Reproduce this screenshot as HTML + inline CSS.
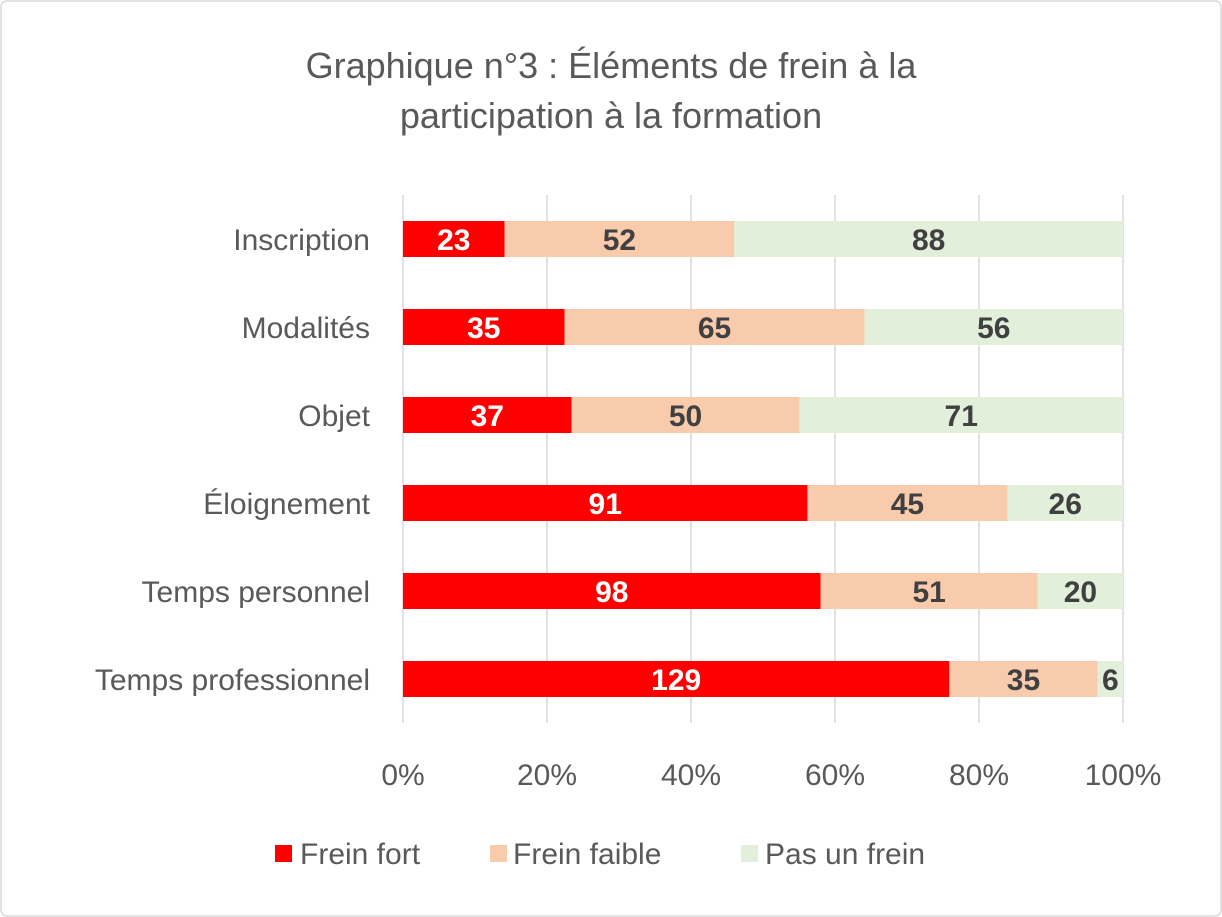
<!DOCTYPE html>
<html><head><meta charset="utf-8"><style>
html,body{margin:0;padding:0;background:#fff}
svg{display:block;font-family:"Liberation Sans",Arial,sans-serif}
</style></head><body>
<svg id="chart" width="1222" height="917" viewBox="0 0 1222 917">
<rect x="1" y="1" width="1220" height="915" rx="6" fill="#fff" stroke="#d9d9d9" stroke-width="1.5"/>
<text x="611" y="78" text-anchor="middle" font-size="36" fill="#595959">Graphique n°3 : Éléments de frein à la</text>
<text x="611" y="128" text-anchor="middle" font-size="36" fill="#595959">participation à la formation</text>
<g id="grid"></g><g id="bars"></g><g id="labels"></g><g id="ticks"></g>
<g>
<rect x="275" y="845" width="17" height="17" fill="#FF0000"/>
<text x="300" y="864" font-size="30" fill="#595959">Frein fort</text>
<rect x="490" y="845" width="17" height="17" fill="#F8CBAD"/>
<text x="513" y="864" font-size="30" fill="#595959">Frein faible</text>
<rect x="741" y="845" width="17" height="17" fill="#E2EFDA"/>
<text x="765" y="864" font-size="30" fill="#595959">Pas un frein</text>
</g>
</svg>
<script>
const categories=["Inscription","Modalités","Objet","Éloignement","Temps personnel","Temps professionnel"];
const freinFort=[23,35,37,91,98,129];
const freinFaible=[52,65,50,45,51,35];
const pasUnFrein=[88,56,71,26,20,6];
const tickLabels=["0%","20%","40%","60%","80%","100%"];
const tickValues=[0,0.2,0.4,0.6,0.8,1];
const NS="http://www.w3.org/2000/svg";
const x0=403,x1=1123,yTop=195,rowH=88,barH=36;
const xs=v=>x0+v*(x1-x0);
const yc=i=>yTop+rowH*i+rowH/2;
function mk(tag,attrs,parent,txt){const e=document.createElementNS(NS,tag);for(const k in attrs)e.setAttribute(k,attrs[k]);if(txt!==undefined)e.textContent=txt;document.getElementById(parent).appendChild(e);return e;}
tickValues.forEach((v,i)=>{
 const l=mk('line',{x1:xs(v),x2:xs(v),y1:yTop,y2:yTop+rowH*6,stroke:'#d9d9d9','stroke-width':1.5},'grid');
 
 
 const t=mk('text',{x:xs(v),y:785,'text-anchor':'middle','font-size':30,fill:'#595959'},'ticks',tickLabels[i]);
 
 
});
const series=[[freinFort,'#FF0000','#ffffff','frein-fort'],[freinFaible,'#F8CBAD','#404040','frein-faible'],[pasUnFrein,'#E2EFDA','#404040','pas-un-frein']];
categories.forEach((c,i)=>{
 const total=freinFort[i]+freinFaible[i]+pasUnFrein[i];
 const cl=mk('text',{x:370,y:yc(i)+11,'text-anchor':'end','font-size':30,fill:'#595959'},'labels',c);
 
 
 let acc=0;
 series.forEach(([arr,col,tc,nm])=>{
  const a=xs(acc/total),b=xs((acc+arr[i])/total);
  const r=mk('rect',{x:a,y:yc(i)-barH/2,width:b-a,height:barH,fill:col},'bars');
  
  
  const t=mk('text',{x:(a+b)/2,y:yc(i)+11,'text-anchor':'middle','font-size':30,'font-weight':'bold',fill:tc},'bars',arr[i]);
  
  
  acc+=arr[i];
 });
});
</script>
</body></html>
